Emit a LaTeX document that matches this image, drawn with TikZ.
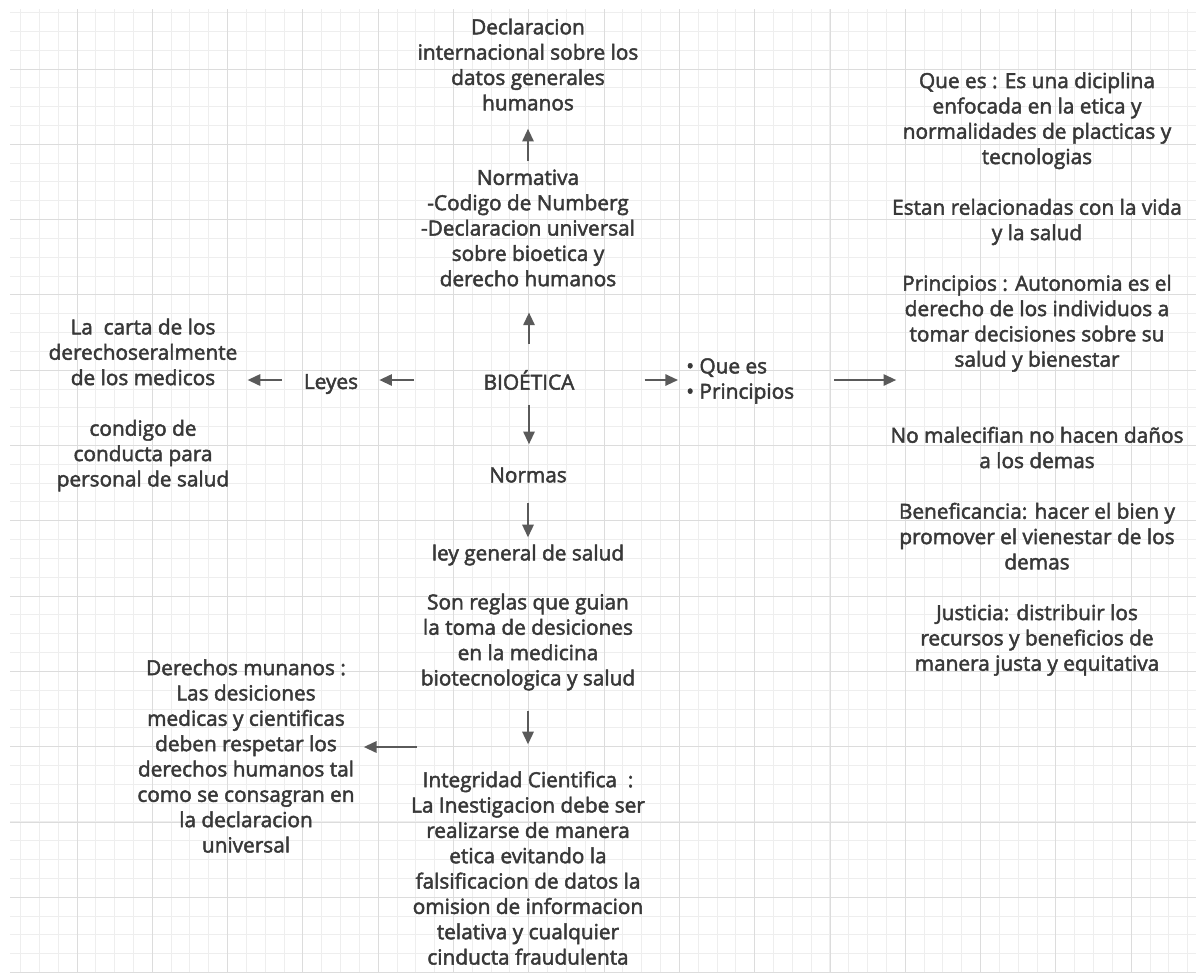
\documentclass[tikz,border=0pt]{standalone}
\usepackage{fontspec}
\setmainfont{Open Sans}
\usetikzlibrary{arrows.meta}
\definecolor{txt}{HTML}{383838}
\definecolor{arrc}{HTML}{5A5A5A}
\definecolor{gmin}{HTML}{EEEEEE}
\definecolor{gmaj}{HTML}{DCDCDC}
\newcommand{\heavytext}{\special{pdf:literal direct 2 Tr 0.35 w}}
\tikzset{
  lbl/.style={align=center, inner sep=0pt, text=txt, font=\fontsize{15.6}{19}\selectfont\heavytext},
  arr/.style={draw=arrc, line width=1.5pt, -{Triangle[length=9.5pt,width=8.5pt]}},
  gminor/.style={draw=gmin, line width=0.75pt},
  gmajor/.style={draw=gmaj, line width=0.9pt},
}
\begin{document}
\begin{tikzpicture}[x=0.75pt,y=-0.75pt]
\useasboundingbox[fill=white] (0,0) rectangle (1196,972);
\begin{scope}
  \clip (10,9) rectangle (1196,972);
  \foreach \i in {-4,...,60} \draw[gminor] ({floor(77+18.825*\i)+0.5},9) -- ({floor(77+18.825*\i)+0.5},972);
  \foreach \i in {-3,...,51} \draw[gminor] (10,{floor(69+18.825*\i)+0.5}) -- (1196,{floor(69+18.825*\i)+0.5});
  \foreach \i in {-1,...,15} \draw[gmajor] ({floor(77+75.3*\i)+0.5},9) -- ({floor(77+75.3*\i)+0.5},972);
  \foreach \i in {-1,...,12} \draw[gmajor] (10,{floor(69+75.3*\i)+0.5}) -- (1196,{floor(69+75.3*\i)+0.5});
\end{scope}

\node[lbl] (decl) at (528,64.5) {Declaracion\\internacional sobre los\\datos generales\\humanos};
\node[lbl] (norm) at (528,228) {Normativa\\-Codigo de Numberg\\-Declaracion universal\\sobre bioetica y\\derecho humanos};
\node[lbl] (bio) at (529,380) {BIOÉTICA};
\node[lbl] (leyes) at (331,384) {Leyes};
\node[lbl] (carta) at (143,405) {La\ \ carta de los\\derechoseralmente\\de los medicos\\[19pt]condigo de\\conducta para\\personal de salud};
\node[lbl, align=left, anchor=west] (bul) at (686,381) {\textbullet\ Que es\\\textbullet\ Principios};
\node[lbl] (det) at (1037,374) {Que es : Es una diciplina\\enfocada en la etica y\\normalidades de placticas y\\tecnologias\\[19pt]Estan relacionadas con la vida\\y la salud\\[19pt]Principios : Autonomia es el\\derecho de los individuos a\\tomar decisiones sobre su\\salud y bienestar\\[38pt]No malecifian no hacen daños\\a los demas\\[19pt]Beneficancia: hacer el bien y\\promover el vienestar de los\\demas\\[19pt]Justicia: distribuir los\\recursos y beneficios de\\manera justa y equitativa};
\node[lbl] (normas) at (528,475) {Normas};
\node[lbl] (ley) at (528,555) {ley general de salud};
\node[lbl] (reglas) at (528,642) {Son reglas que guian\\la toma de desiciones\\en la medicina\\biotecnologica y salud};
\node[lbl] (der) at (246,756) {Derechos munanos :\\Las desiciones\\medicas y cientificas\\deben respetar los\\derechos humanos tal\\como se consagran en\\la declaracion\\universal};
\node[lbl] (integ) at (528,868) {Integridad Cientifica\ \ :\\La Inestigacion debe ser\\realizarse de manera\\etica evitando la\\falsificacion de datos la\\omision de informacion\\telativa y cualquier\\cinducta fraudulenta};
\coordinate (lf) at (417,747);

\draw[arr, shorten <=19.3pt, shorten >=19.4pt] (bio.north) -- (bio.north |- norm.south);
\draw[arr, shorten <=5.9pt, shorten >=13.5pt] (norm.north) -- (decl.south);
\draw[arr, shorten <=11pt, shorten >=17.25pt] (bio.south) -- (bio.south |- normas.north);
\draw[arr, shorten <=15pt, shorten >=5.25pt] (normas.south) -- (ley.north);
\draw[arr, shorten <=15pt, shorten >=20pt] (reglas.south) -- (integ.north);
\draw[arr, shorten <=52pt, shorten >=15.75pt] (bio.west) -- (bio.west -| leyes.east);
\draw[arr, shorten <=16.5pt, shorten >=7.5pt] (bio.west -| leyes.west) -- (bio.west -| carta.east);
\draw[arr, shorten <=52.5pt, shorten >=6pt] (bio.east) -- (bio.east -| bul.west);
\draw[arr, shorten <=30pt, shorten >=-4.5pt] (bio.east -| bul.east) -- (bio.east -| det.west);
\draw[arr, shorten >=6.75pt] (lf) -- (lf -| der.east);
\end{tikzpicture}
\end{document}
